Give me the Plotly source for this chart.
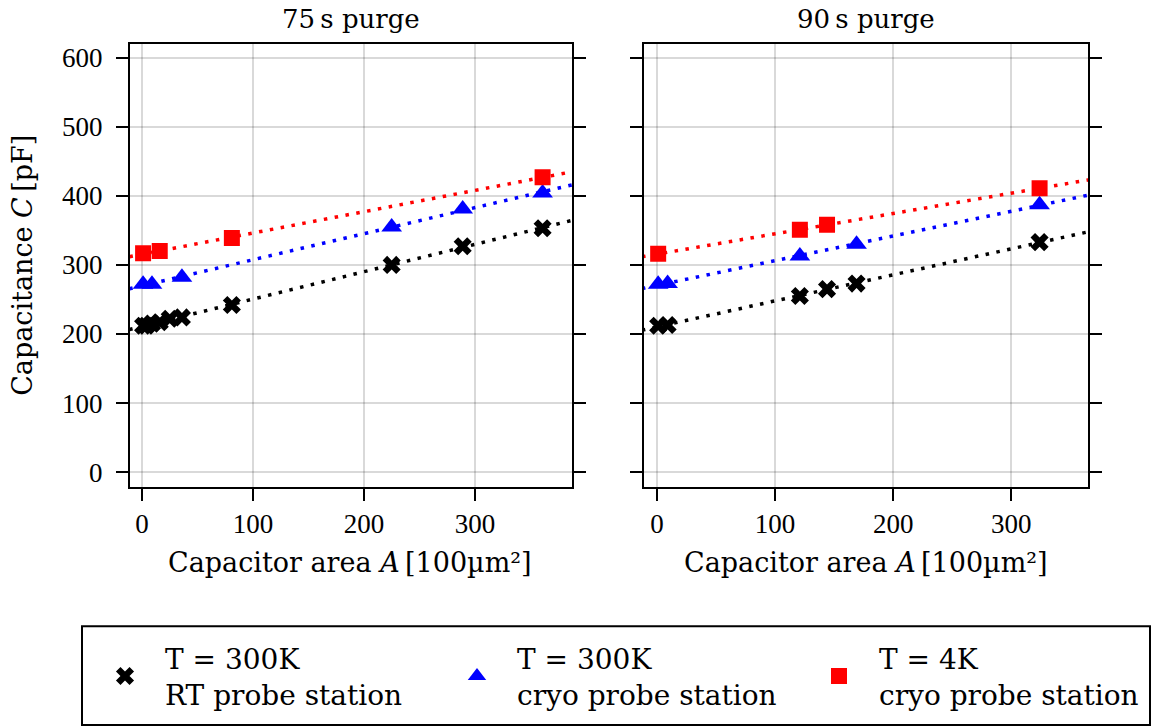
import numpy as np
import plotly.graph_objects as go

# ---- data (75 s purge) ----
a75_rt = [1, 4, 9, 16, 25, 36, 81, 225, 289, 361]
c75_rt = [212, 212, 215, 217, 222, 224, 242, 300, 327, 353]
a75_cryo = [1, 9, 36, 225, 289, 361]
c75_cryo = [272, 272, 282, 355, 381, 404]
a75_4k = [1, 16, 81, 361]
c75_4k = [317, 320, 339, 427]

# ---- data (90 s purge) ----
a90_rt = [1, 9, 121, 144, 169, 324]
c90_rt = [212, 213, 255, 265, 273, 333]
a90_cryo = [1, 9, 121, 169, 324]
c90_cryo = [272, 273, 313, 330, 387]
a90_4k = [1, 121, 144, 324]
c90_4k = [316, 351, 358, 411]

titles = ["75\u2009s purge", "90\u2009s purge"]
series_names = ["T = 300K<br>RT probe station",
                "T = 300K<br>cryo probe station",
                "T = 4K<br>cryo probe station"]
colors = ["black", "blue", "red"]
symbols = ["x", "triangle-up", "square"]
msizes = [16, 18, 16]

xranges = [[-10.8, 387.5], [-11, 365]]
yrange = [-21, 620]
yticks = [0, 100, 200, 300, 400, 500, 600]
xticks = [0, 100, 200, 300]

TICKFONT = "Liberation Serif"
FONT = "DejaVu Serif"
fig = go.Figure()

panels = [
    [(a75_rt, c75_rt), (a75_cryo, c75_cryo), (a75_4k, c75_4k)],
    [(a90_rt, c90_rt), (a90_cryo, c90_cryo), (a90_4k, c90_4k)],
]
legend_ids = ["legend", "legend2", "legend3"]

for p, panel in enumerate(panels):
    xa = "x" if p == 0 else "x2"
    ya = "y" if p == 0 else "y2"
    for s, (ax, cy) in enumerate(panel):
        k, b = np.polyfit(ax, cy, 1)
        xx = np.array(xranges[p]) + np.array([-20, 20])
        fig.add_trace(go.Scatter(x=xx, y=k * xx + b, mode="lines",
                                 line=dict(color=colors[s], width=3.5, dash="3.5px,7.5px"),
                                 showlegend=False, hoverinfo="skip",
                                 xaxis=xa, yaxis=ya))
    for s, (ax, cy) in enumerate(panel):
        fig.add_trace(go.Scatter(x=ax, y=cy, mode="markers",
                                 marker=dict(color=colors[s], symbol=symbols[s], size=msizes[s],
                                             line=dict(width=0)),
                                 name=series_names[s], showlegend=(p == 0),
                                 legend=legend_ids[s],
                                 xaxis=xa, yaxis=ya))

W, H = 1153, 728
def px(x):
    return x / W
def py(y):
    return 1 - y / H

axis_common = dict(showline=True, linecolor="black", linewidth=2,
                   ticks="outside", ticklen=12, tickwidth=2, tickcolor="black",
                   showgrid=True, gridcolor="rgba(0,0,0,0.15)", gridwidth=2,
                   zeroline=False, tickfont=dict(family=TICKFONT, size=27, color="black"))

xtitle = "Capacitor area <i>A</i>\u2009[100µm²]"
tfont = dict(family=FONT, size=27, color="black")
fig.update_layout(
    width=W, height=H, margin=dict(l=0, r=0, t=0, b=0),
    paper_bgcolor="white", plot_bgcolor="white",
    font=dict(family=FONT, size=27, color="black"),
    xaxis=dict(domain=[px(130), px(572)], range=xranges[0], anchor="y", mirror=True,
               tickvals=xticks, ticklabelstandoff=0, **axis_common),
    xaxis2=dict(domain=[px(644), px(1088)], range=xranges[1], anchor="y2", mirror=True,
                tickvals=xticks, ticklabelstandoff=0, **axis_common),
    yaxis=dict(domain=[py(487), py(43)], range=yrange, anchor="x", mirror="ticks",
               tickvals=yticks, ticklabelstandoff=8,
               title=dict(text="Capacitance <i>C</i>\u2009[pF]", standoff=22, font=tfont),
               **axis_common),
    yaxis2=dict(domain=[py(487), py(43)], range=yrange, anchor="x2", mirror="ticks",
                tickvals=yticks, showticklabels=False,
                **axis_common),
    showlegend=True,
)

leg_common = dict(orientation="v", bgcolor="rgba(0,0,0,0)", borderwidth=0,
                  itemwidth=70, yanchor="middle", xanchor="left",
                  font=dict(family=FONT, size=28, color="black"))
fig.update_layout(
    legend=dict(x=px(85), y=py(677), **leg_common),
    legend2=dict(x=px(437), y=py(677), **leg_common),
    legend3=dict(x=px(799), y=py(677), **leg_common),
)

fig.add_shape(type="rect", xref="paper", yref="paper",
              x0=px(82), x1=px(1150), y0=py(726), y1=py(627),
              line=dict(color="black", width=2), fillcolor="rgba(0,0,0,0)")

for p, t in enumerate(titles):
    cx = [351, 866][p]
    fig.add_annotation(text=t, xref="paper", yref="paper", x=px(cx), y=py(18),
                       showarrow=False, xanchor="center", yanchor="middle",
                       font=dict(family=FONT, size=26, color="black"))
    xc = [350, 866][p]
    fig.add_annotation(text=xtitle, xref="paper", yref="paper", x=px(xc), y=py(563),
                       showarrow=False, xanchor="center", yanchor="middle",
                       font=tfont)

fig.write_html("out.html")
